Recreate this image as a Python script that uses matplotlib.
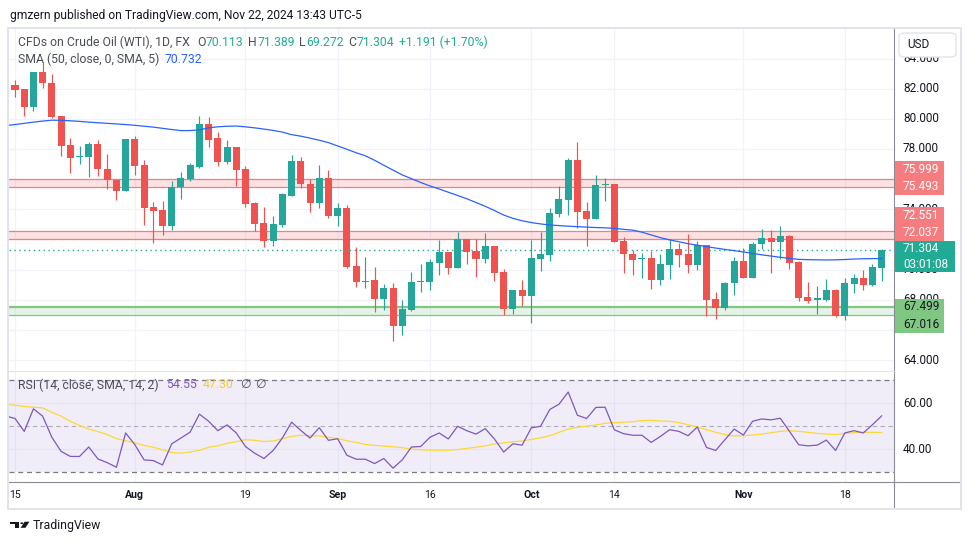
import numpy as np
import matplotlib
matplotlib.use("Agg")
import matplotlib.pyplot as plt
from matplotlib.patches import Rectangle, FancyBboxPatch, Polygon, Circle
from matplotlib.lines import Line2D

# ---------------- data ----------------
published = "gmzern published on TradingView.com, Nov 22, 2024 13:43 UTC-5"
header_title = "CFDs on Crude Oil (WTI), 1D, FX"
ohlc_letters = ["O", "H", "L", "C"]
ohlc_values = [70.113, 71.389, 69.272, 71.304]
change_text = "+1.191 (+1.70%)"
sma_title = "SMA (50, close, 0, SMA, 5)"
sma_last = 70.732
rsi_title = "RSI (14, close, SMA, 14, 2)"
rsi_last = 54.55
rsi_sma_last = 47.30
countdown = "03:01:08"
currency = "USD"

time_tick_idx = [0, 13, 25, 35, 45, 56, 65, 79, 90]
time_tick_lbl = ["15", "Aug", "19", "Sep", "16", "Oct", "14", "Nov", "18"]
price_ticks = [64, 66, 68, 70, 72, 74, 76, 78, 80, 82, 84]
rsi_ticks = [40, 60]
rsi_levels = [30, 50, 70]

red_zone_1 = [75.493, 75.999]
red_zone_2 = [72.037, 72.551]
green_zone = [67.016, 67.499]
last_close = 71.304

opens = [82.24, 81.98, 80.81, 83.08, 82.35, 80.19, 78.26, 77.46, 77.49, 78.33,
         76.67, 75.95, 75.21, 78.66, 76.94, 74.13, 73.95, 72.91, 75.46, 76.01,
         76.83, 79.66, 78.71, 77.16, 78.15, 76.67, 74.44, 73.11, 71.92, 72.96,
         74.90, 77.20, 75.68, 74.39, 76.10, 73.58, 74.08, 70.24, 69.20, 69.31,
         68.05, 68.76, 66.28, 67.32, 69.20, 69.20, 70.46, 71.14, 70.13, 72.03,
         71.23, 70.70, 71.56, 69.82, 67.39, 68.65, 68.25, 70.70, 70.97, 73.69,
         74.61, 77.27, 73.89, 73.33, 75.64, 75.68, 71.92, 71.04, 70.70, 70.75,
         69.31, 70.31, 71.35, 71.04, 70.31, 71.63, 68.05, 67.48, 69.09, 70.57,
         69.47, 71.68, 72.08, 71.85, 72.25, 70.53, 68.21, 67.99, 67.99, 68.65,
         66.95, 69.05, 69.42, 68.98, 70.113]
highs = [82.57, 82.00, 83.12, 83.79, 82.95, 80.19, 78.75, 78.22, 78.49, 78.60,
         77.67, 75.98, 78.68, 78.86, 77.27, 74.46, 74.55, 75.88, 76.50, 77.09,
         80.19, 80.14, 79.15, 78.60, 78.15, 76.87, 74.46, 74.18, 73.56, 75.06,
         77.60, 77.49, 76.01, 76.94, 76.60, 74.39, 74.28, 71.52, 70.86, 70.19,
         69.02, 69.09, 67.98, 69.82, 70.37, 70.68, 71.96, 71.14, 72.52, 72.03,
         72.03, 72.40, 71.56, 70.04, 68.65, 69.31, 71.96, 72.52, 74.06, 75.54,
         77.38, 78.46, 74.50, 76.27, 76.10, 75.68, 72.19, 71.30, 71.13, 71.24,
         71.04, 72.01, 71.79, 72.36, 71.90, 71.63, 68.49, 69.20, 70.86, 71.46,
         71.81, 72.67, 72.63, 72.89, 72.30, 70.57, 69.20, 68.91, 69.38, 68.69,
         69.42, 69.71, 69.97, 70.35, 71.389]
lows = [81.47, 80.21, 80.50, 82.06, 80.03, 77.53, 76.43, 77.00, 76.16, 76.23,
        75.37, 74.62, 75.19, 76.28, 72.96, 71.74, 72.30, 72.63, 74.66, 75.90,
        76.72, 78.15, 76.87, 76.98, 75.55, 74.18, 72.56, 71.52, 71.59, 72.85,
        74.88, 75.43, 73.84, 74.11, 73.40, 72.91, 70.13, 68.87, 68.80, 67.17,
        67.32, 65.29, 65.66, 67.28, 68.54, 68.65, 69.64, 69.71, 70.13, 70.37,
        69.53, 70.46, 69.27, 66.99, 67.03, 67.59, 66.44, 69.91, 70.59, 73.51,
        73.62, 72.74, 71.56, 73.33, 74.55, 71.82, 69.75, 69.64, 69.47, 68.72,
        68.98, 69.38, 70.20, 69.80, 69.97, 66.93, 66.73, 67.32, 68.32, 69.45,
        69.45, 71.35, 69.80, 70.70, 70.04, 67.94, 67.81, 67.03, 67.94, 66.88,
        66.66, 68.47, 68.65, 68.91, 69.272]
closes = [81.91, 80.81, 83.08, 82.35, 80.10, 78.22, 77.42, 77.50, 78.33, 76.65,
          75.95, 75.21, 78.66, 76.89, 74.11, 73.91, 72.91, 75.50, 76.10, 76.94,
          79.66, 78.60, 77.16, 78.15, 76.61, 74.35, 73.02, 71.92, 73.02, 74.99,
          77.20, 75.68, 74.40, 76.10, 73.58, 74.06, 70.19, 69.20, 69.26, 68.05,
          68.76, 66.28, 67.39, 69.16, 69.24, 70.48, 71.14, 70.13, 72.03, 71.19,
          70.70, 71.56, 69.80, 67.39, 68.65, 68.25, 70.77, 71.01, 73.73, 74.66,
          77.27, 73.84, 73.33, 75.61, 75.68, 71.85, 71.01, 70.64, 70.75, 69.31,
          70.37, 71.35, 70.97, 70.31, 71.63, 67.99, 67.48, 69.14, 70.57, 69.47,
          71.70, 72.08, 71.85, 72.25, 70.46, 68.09, 67.94, 68.10, 68.65, 66.95,
          69.09, 69.42, 68.98, 70.15, 71.304]

# line series start one bar before the first visible candle (index -1)
sma50 = [79.55,
         79.62, 79.70, 79.78, 79.85, 79.91, 79.90, 79.87, 79.83, 79.78, 79.74,
         79.70, 79.66, 79.62, 79.57, 79.51, 79.45, 79.37, 79.29, 79.22, 79.22,
         79.27, 79.40, 79.47, 79.51, 79.52, 79.47, 79.40, 79.32, 79.23, 79.12,
         78.95, 78.85, 78.72, 78.58, 78.42, 78.20, 77.98, 77.75, 77.55, 77.25,
         76.92, 76.60, 76.28, 76.03, 75.78, 75.55, 75.35, 75.13, 74.92, 74.70,
         74.45, 74.20, 73.92, 73.62, 73.40, 73.24, 73.12, 73.03, 72.96, 72.92,
         72.88, 72.85, 72.82, 72.79, 72.77, 72.74, 72.67, 72.62, 72.48, 72.30,
         72.12, 71.97, 71.85, 71.72, 71.62, 71.52, 71.43, 71.34, 71.26, 71.17,
         71.08, 70.98, 70.90, 70.82, 70.74, 70.68, 70.66, 70.65, 70.64, 70.65,
         70.67, 70.70, 70.72, 70.73, 70.732]
rsi = [54.5,
       53.4, 47.8, 57.6, 54.4, 45.2, 39.1, 36.9, 36.9, 41.0, 35.8,
       34.2, 32.2, 47.1, 42.0, 35.4, 35.1, 33.2, 42.4, 44.9, 47.5,
       55.3, 52.2, 48.1, 50.6, 47.1, 41.2, 38.3, 36.0, 39.5, 44.9,
       51.8, 48.2, 44.9, 49.4, 43.9, 44.6, 37.4, 35.7, 35.7, 33.8,
       36.0, 31.8, 35.4, 41.0, 41.2, 45.2, 47.1, 44.5, 50.0, 48.1,
       46.6, 49.0, 44.5, 38.8, 42.4, 41.8, 49.3, 50.0, 57.3, 59.6,
       64.9, 54.8, 53.4, 58.2, 58.3, 48.5, 46.8, 46.1, 46.1, 43.0,
       45.6, 48.5, 47.8, 45.9, 49.7, 40.8, 39.5, 44.2, 48.8, 46.2,
       52.2, 53.2, 52.8, 53.5, 47.8, 42.0, 41.5, 41.8, 44.0, 39.5,
       47.1, 48.1, 47.1, 50.7, 54.55]
rsi_sma = [59.5,
           59.2, 58.6, 58.3, 58.0, 56.1, 54.4, 52.2, 50.4, 48.8, 47.7,
           46.4, 44.7, 43.7, 42.8, 41.7, 40.9, 39.8, 38.6, 38.3, 38.8,
           39.6, 40.9, 41.5, 42.6, 43.3, 44.2, 43.9, 43.4, 43.6, 44.6,
           45.6, 46.1, 45.9, 45.8, 45.2, 44.7, 43.7, 43.0, 42.1, 41.7,
           41.4, 41.1, 40.7, 40.1, 39.8, 39.6, 39.6, 39.6, 39.9, 40.4,
           40.9, 41.5, 42.3, 42.8, 43.3, 43.6, 44.3, 45.0, 45.9, 47.4,
           48.8, 49.6, 50.0, 50.6, 51.3, 51.6, 51.8, 52.0, 52.5, 52.6,
           52.3, 52.2, 51.6, 50.7, 49.7, 48.5, 47.4, 46.4, 45.8, 45.9,
           46.2, 46.6, 47.2, 47.8, 48.1, 47.8, 47.4, 46.9, 46.6, 46.4,
           46.9, 47.2, 47.4, 47.4, 47.30]

# ---------------- style ----------------
UP = "#26a69a"
DN = "#ef5350"
TEAL_TXT = "#22ab94"
GRID = "#f0f3fa"
AXLINE = "#8a8d96"
BORDER = "#e0e3eb"
TXT = "#131722"
LEG = "#4a4e59"
FAM = ["Roboto", "DejaVu Sans"]

W, H = 970, 545
fig = plt.figure(figsize=(W / 100, H / 100), dpi=100)
fig.patch.set_facecolor("white")
renderer = fig.canvas.get_renderer()


def fx(x):
    return x / W


def fy(y):
    return 1 - y / H


# pixel geometry
X0, X1 = 9, 894
BAR0, BARSTEP = 15.0, 9.22
MAIN_TOP, MAIN_BOT = 28, 370
RSI_TOP, RSI_BOT = 372, 482


def price_y(p):
    return 209.3 + (74 - p) * 15.08


def rsi_y(r):
    return 403.3 + (60 - r) * 2.3


def p_of_y(y):
    return 74 + (209.3 - y) / 15.08


def r_of_y(y):
    return 60 - (y - 403.3) / 2.3


xlim = ((X0 - BAR0) / BARSTEP, (X1 - BAR0) / BARSTEP)

ax = fig.add_axes([fx(X0), fy(MAIN_BOT), fx(X1) - fx(X0), fy(MAIN_TOP) - fy(MAIN_BOT)])
axr = fig.add_axes([fx(X0), fy(RSI_BOT), fx(X1) - fx(X0), fy(RSI_TOP) - fy(RSI_BOT)])
for a in (ax, axr):
    a.set_xlim(*xlim)
    a.set_axis_off()
    a.set_facecolor("white")
ax.set_ylim(p_of_y(MAIN_BOT), p_of_y(MAIN_TOP))
axr.set_ylim(r_of_y(RSI_BOT), r_of_y(RSI_TOP))

# grids
for g in price_ticks:
    ax.axhline(g, color=GRID, lw=0.9, zorder=0)
for i in time_tick_idx:
    ax.axvline(i, color=GRID, lw=0.9, zorder=0)
    axr.axvline(i, color=GRID, lw=0.9, zorder=0)
for g in rsi_ticks:
    axr.axhline(g, color=GRID, lw=0.9, zorder=0)

# zones
for lo, hi in (red_zone_1, red_zone_2):
    ax.axhspan(lo, hi, color="#f23645", alpha=0.14, lw=0, zorder=1)
    ax.axhline(hi, color="#f77c80", lw=0.9, zorder=1.5)
    ax.axhline(lo, color="#f77c80", lw=0.9, zorder=1.5)
ax.axhspan(green_zone[0], green_zone[1], color="#4caf50", alpha=0.14, lw=0, zorder=1)
ax.axhline(green_zone[1], color="#81c784", lw=1.6, zorder=1.5)
ax.axhline(green_zone[0], color="#81c784", lw=0.9, zorder=1.5)

# candles
o = np.array(opens)
h = np.array(highs)
l = np.array(lows)
c = np.array(closes)
idx = np.arange(len(o))
cols = np.where(c >= o, UP, DN)
ax.vlines(idx, l, h, colors=cols, lw=0.85, zorder=3)
ax.bar(idx, np.maximum(np.abs(c - o), 0.07), bottom=np.minimum(o, c), width=0.76,
       color=cols, lw=0, zorder=3)

# SMA 50
lx = np.arange(-1, len(o))
ax.plot(lx, sma50, color="#2962ff", lw=0.9, zorder=4)

# last price dotted line
ax.axhline(last_close, color=TEAL_TXT, lw=1.0, ls=(0, (1, 2.5)), zorder=2)

# RSI pane
axr.axhspan(rsi_levels[0], rsi_levels[2], color="#7e57c2", alpha=0.1, lw=0, zorder=1)
axr.axhline(rsi_levels[2], color="#787b86", lw=0.9, ls=(0, (4, 3)), zorder=2)
axr.axhline(rsi_levels[0], color="#787b86", lw=0.9, ls=(0, (4, 3)), zorder=2)
axr.axhline(rsi_levels[1], color="#787b86", lw=0.8, ls=(0, (4, 3)), alpha=0.55, zorder=2)
axr.plot(lx, rsi_sma, color="#fdd835", lw=0.9, zorder=3)
axr.plot(lx, rsi, color="#7e57c2", lw=0.9, zorder=4)


# ---------------- text helpers ----------------
def text_w(s, size, **kw):
    t = fig.text(0, 0, s, fontsize=size, family=FAM, **kw)
    w = t.get_window_extent(renderer).width
    t.remove()
    return w


def fit(s, target, **kw):
    return 10 * target / text_w(s, 10, **kw)


def put(x, y, s, size, color, ha="left", z=3, **kw):
    t = fig.text(fx(x), fy(y), s, fontsize=size, color=color, family=FAM,
                 va="center", ha=ha, zorder=z, **kw)
    return t.get_window_extent(renderer).x1


def fig_line(x0, y0, x1, y1, color, lw, z=6):
    fig.add_artist(Line2D([fx(x0), fx(x1)], [fy(y0), fy(y1)], transform=fig.transFigure,
                          color=color, lw=lw, zorder=z))


def fig_rect(x0, y0, x1, y1, fc, ec="none", lw=0, z=5):
    fig.add_artist(Rectangle((fx(x0), fy(y1)), fx(x1) - fx(x0), fy(y0) - fy(y1),
                             transform=fig.transFigure, facecolor=fc, edgecolor=ec,
                             lw=lw, zorder=z))


# top publish line
put(10, 15, published, fit(published, 352), TXT)

# legend line 1
s_leg = fit(header_title, 171.7)
put(18.3, 42, header_title, s_leg, LEG)
group_x = [197, 248, 299, 348]
for gx, letter, val in zip(group_x, ohlc_letters, ohlc_values):
    xe = put(gx, 42, letter, s_leg, LEG)
    put(xe + 0.5, 42, f"{val:.3f}", s_leg, TEAL_TXT)
put(399, 42, change_text, s_leg, TEAL_TXT)

# legend line 2
put(18.3, 59, sma_title, s_leg, LEG)
put(165, 59, f"{sma_last:.3f}", s_leg, "#2962ff")

# RSI legend
put(18.3, 385, rsi_title, s_leg, LEG)
put(166, 385, f"{rsi_last:.2f}", s_leg, "#7e57c2")
put(203, 385, f"{rsi_sma_last:.2f}", s_leg, "#f5d020")
put(240, 385, "\u2205", s_leg, LEG)
put(255, 385, "\u2205", s_leg, LEG)

# price scale boxes
boxes = [
    (161, 194.5, 944, "#f77c80", "white", [f"{red_zone_1[1]:.3f}", f"{red_zone_1[0]:.3f}"], [169.7, 186.3]),
    (207.3, 240.6, 944, "#f77c80", "white", [f"{red_zone_2[1]:.3f}", f"{red_zone_2[0]:.3f}"], [215.3, 232.0]),
    (240.8, 271.7, 955, TEAL_TXT, "white", [f"{last_close:.3f}", countdown], [249.0, 264.0]),
    (299.3, 332.7, 944, "#81c784", TXT, [f"{green_zone[1]:.3f}", f"{green_zone[0]:.3f}"], [307.0, 324.0]),
]

# price scale labels (those fully hidden behind a box are not drawn)
s_px = fit("82.000", 36)
spans = [(161, 194.5), (207.3, 271.7), (299.3, 332.7)]
for g in price_ticks:
    yy = price_y(g)
    if any(a <= yy - 5 and yy + 5 <= b for a, b in spans):
        continue
    put(903, yy, f"{g:.3f}", s_px, TXT)
for g in rsi_ticks:
    put(903, rsi_y(g), f"{g:.2f}", s_px, TXT)

for y0, y1, xr, fc, tc, labels, ys in boxes:
    fig_rect(895, y0, xr, y1, fc, z=5)
    for lab, yy in zip(labels, ys):
        put(903, yy, lab, s_px, tc, z=6)

# currency button
fig.add_artist(FancyBboxPatch((fx(899), fy(57)), fx(956) - fx(899), fy(33) - fy(57),
                              boxstyle="round,pad=0,rounding_size=0.006",
                              transform=fig.transFigure, facecolor="white",
                              edgecolor=BORDER, lw=1.0, zorder=5))
put(907, 45, currency, s_px, TXT, z=6)

# time axis labels
s_t = fit("19", 11.7)
for i, lab in zip(time_tick_idx, time_tick_lbl):
    wt = "bold" if lab.isalpha() else "normal"
    put(BAR0 + BARSTEP * i, 495, lab, s_t, TXT, ha="center", weight=wt)

# frame lines
fig_line(894.3, 28, 894.3, 508, AXLINE, 0.8)
fig_line(9, 482.3, 961, 482.3, AXLINE, 0.8)
fig_line(9, 371, 894, 371, BORDER, 0.8)
fig.add_artist(Rectangle((fx(8.5), fy(508.5)), fx(961) - fx(8.5), fy(27.5) - fy(508.5),
                         transform=fig.transFigure, facecolor="none",
                         edgecolor=BORDER, lw=1.4, zorder=7))


# TradingView logo + wordmark
def poly(pts, color):
    fig.add_artist(Polygon([(fx(x), fy(y)) for x, y in pts], closed=True,
                           transform=fig.transFigure, facecolor=color, edgecolor="none", zorder=6))


poly([(10, 521.7), (19.2, 521.7), (19.2, 527.8), (15.2, 527.8), (15.2, 524.4), (10, 524.4)], TXT)
fig.add_artist(Circle((fx(21.8), fy(523.2)), 1.5 / W, transform=fig.transFigure,
                      facecolor=TXT, edgecolor="none", zorder=6))
poly([(24.6, 521.7), (29.4, 521.7), (25.4, 527.8), (20.6, 527.8)], TXT)
put(33, 526, "TradingView", fit("TradingView", 68), TXT)

fig.savefig("out.png", dpi=100, facecolor="white")
